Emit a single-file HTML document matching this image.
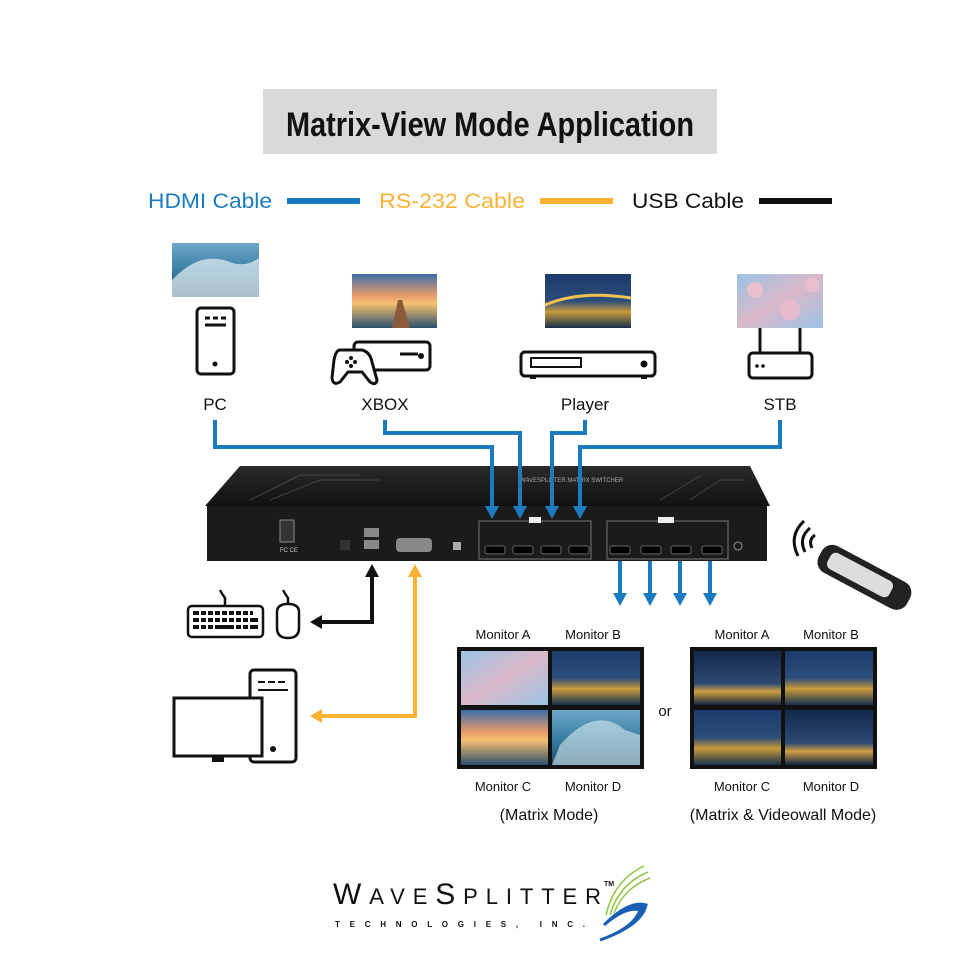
<!DOCTYPE html>
<html><head><meta charset="utf-8"><style>
html,body{margin:0;padding:0;background:#fff}
svg{display:block}
text{font-family:"Liberation Sans",sans-serif}
</style></head><body>
<svg width="980" height="980" viewBox="0 0 980 980" xmlns="http://www.w3.org/2000/svg">
<defs>
<linearGradient id="wave" x1="0" y1="0" x2="0" y2="1"><stop offset="0" stop-color="#6fa7c8"/><stop offset=".5" stop-color="#3a7fa3"/><stop offset="1" stop-color="#1d4f6d"/></linearGradient>
<linearGradient id="sunset" x1="0" y1="0" x2="0" y2="1"><stop offset="0" stop-color="#3d6fa8"/><stop offset=".4" stop-color="#e89a6a"/><stop offset=".55" stop-color="#f5c070"/><stop offset="1" stop-color="#2b4f6e"/></linearGradient>
<linearGradient id="bridge" x1="0" y1="0" x2="0" y2="1"><stop offset="0" stop-color="#1d3a6a"/><stop offset=".5" stop-color="#2a4d7a"/><stop offset=".7" stop-color="#c89a3a"/><stop offset="1" stop-color="#16304f"/></linearGradient>
<linearGradient id="blossom" x1="0" y1="0" x2="1" y2="1"><stop offset="0" stop-color="#9cc3e6"/><stop offset=".5" stop-color="#d9b8c8"/><stop offset="1" stop-color="#9cc3e6"/></linearGradient>
<linearGradient id="night" x1="0" y1="0" x2="0" y2="1"><stop offset="0" stop-color="#13284a"/><stop offset=".6" stop-color="#2c4a74"/><stop offset=".75" stop-color="#d0a044"/><stop offset="1" stop-color="#102440"/></linearGradient>
<linearGradient id="top" x1="0" y1="0" x2="0" y2="1"><stop offset="0" stop-color="#2a2a2a"/><stop offset="1" stop-color="#111"/></linearGradient>
</defs>

<rect x="263" y="89" width="454" height="65" fill="#d9d9d9"/>
<text x="490" y="136" text-anchor="middle" font-size="34" font-weight="bold" fill="#111" textLength="408" lengthAdjust="spacingAndGlyphs">Matrix-View Mode Application</text>

<text x="148" y="208" font-size="21" fill="#1a7bc0" textLength="124" lengthAdjust="spacingAndGlyphs">HDMI Cable</text>
<rect x="287" y="198" width="73" height="6" fill="#1a7bc0"/>
<text x="379" y="208" font-size="21" fill="#f9b233" textLength="146" lengthAdjust="spacingAndGlyphs">RS-232 Cable</text>
<rect x="540" y="198" width="73" height="6" fill="#f9b233"/>
<text x="632" y="208" font-size="21" fill="#111" textLength="112" lengthAdjust="spacingAndGlyphs">USB Cable</text>
<rect x="759" y="198" width="73" height="6" fill="#111"/>

<rect x="172" y="243" width="87" height="54" fill="url(#wave)"/>
<path d="M172 280 Q200 250 230 262 Q245 268 259 258 L259 297 L172 297Z" fill="#e9f2f6" opacity=".7"/>
<rect x="352" y="274" width="85" height="54" fill="url(#sunset)"/>
<path d="M392 328 L398 300 L402 300 L410 328Z" fill="#8a5a3a"/>
<rect x="545" y="274" width="86" height="54" fill="url(#bridge)"/>
<path d="M545 305 Q580 290 631 298" stroke="#f0c050" stroke-width="3" fill="none"/>
<rect x="737" y="274" width="86" height="54" fill="url(#blossom)"/>
<circle cx="755" cy="290" r="8" fill="#e8c0d0"/><circle cx="790" cy="310" r="10" fill="#e6bccd"/><circle cx="812" cy="285" r="7" fill="#e8c0d0"/>

<g fill="none" stroke="#111" stroke-width="3">
<rect x="197" y="308" width="37" height="66" rx="4"/>
<line x1="205" y1="318" x2="226" y2="318" stroke-dasharray="5 3"/>
<line x1="205" y1="325" x2="226" y2="325"/>
<rect x="354" y="342" width="76" height="28" rx="4"/>
<path d="M340 350 L362 350 Q370 352 372 362 L377 380 Q376 386 370 382 L362 372 L348 372 L340 382 Q333 386 332 378 L334 360 Q336 350 340 350Z" fill="#fff"/>
<line x1="400" y1="354" x2="418" y2="354"/>
<rect x="521" y="352" width="134" height="24" rx="4"/>
<rect x="531" y="358" width="50" height="9" stroke-width="2"/>
<rect x="749" y="353" width="63" height="25" rx="4"/>
<line x1="760" y1="328" x2="760" y2="353"/><line x1="800" y1="328" x2="800" y2="353"/>
</g>
<circle cx="215" cy="364" r="2.5" fill="#111"/><circle cx="421" cy="356" r="3" fill="#111"/><circle cx="644" cy="364" r="3.5" fill="#111"/>
<circle cx="757" cy="366" r="1.8" fill="#111"/><circle cx="763" cy="366" r="1.8" fill="#111"/>
<circle cx="355" cy="362" r="2" fill="#111"/><circle cx="347" cy="362" r="2" fill="#111"/><circle cx="351" cy="358" r="2" fill="#111"/><circle cx="351" cy="366" r="2" fill="#111"/>
<rect x="530" y="376" width="6" height="3" fill="#111"/><rect x="641" y="376" width="6" height="3" fill="#111"/>

<text x="215" y="410" font-size="17" text-anchor="middle" fill="#111">PC</text>
<text x="385" y="410" font-size="17" text-anchor="middle" fill="#111">XBOX</text>
<text x="585" y="410" font-size="17" text-anchor="middle" fill="#111">Player</text>
<text x="780" y="410" font-size="17" text-anchor="middle" fill="#111">STB</text>

<path d="M205 506 L240 466 L750 466 L770 506Z" fill="url(#top)"/>
<g stroke="#555" stroke-width="1" fill="none" opacity=".7">
<path d="M250 500 L300 475 L360 475"/><path d="M270 500 L320 480 L380 480"/><path d="M690 500 L720 480 L745 480"/><path d="M660 500 L700 476"/>
</g>
<text x="520" y="482" font-size="6" fill="#aaa">WAVESPLITTER MATRIX SWITCHER</text>
<rect x="207" y="506" width="560" height="55" fill="#1b1b1b"/>
<rect x="280" y="520" width="14" height="22" fill="#333" stroke="#888"/>
<text x="280" y="552" font-size="6" fill="#ccc">FC CE</text>
<rect x="340" y="540" width="10" height="10" fill="#333"/>
<rect x="364" y="528" width="15" height="9" fill="#888"/><rect x="364" y="540" width="15" height="9" fill="#888"/>
<rect x="396" y="538" width="36" height="14" rx="4" fill="#888"/>
<rect x="453" y="542" width="8" height="8" fill="#aaa"/>
<rect x="479" y="521" width="112" height="38" fill="none" stroke="#777"/>
<rect x="607" y="521" width="121" height="38" fill="none" stroke="#777"/>
<rect x="529" y="517" width="12" height="6" fill="#eee"/><rect x="658" y="517" width="16" height="6" fill="#eee"/>
<g fill="#000" stroke="#666">
<rect x="485" y="546" width="20" height="8" rx="2"/><rect x="513" y="546" width="20" height="8" rx="2"/><rect x="541" y="546" width="20" height="8" rx="2"/><rect x="569" y="546" width="20" height="8" rx="2"/>
<rect x="610" y="546" width="20" height="8" rx="2"/><rect x="641" y="546" width="20" height="8" rx="2"/><rect x="671" y="546" width="20" height="8" rx="2"/><rect x="702" y="546" width="20" height="8" rx="2"/>
</g>
<circle cx="738" cy="546" r="4" fill="none" stroke="#999"/>

<g stroke="#1a7bc0" stroke-width="4" fill="none">
<path d="M215 420 V447 H492 V508"/>
<path d="M385 420 V433 H520 V508"/>
<path d="M585 420 V433 H552 V508"/>
<path d="M780 420 V447 H580 V508"/>
<line x1="620" y1="561" x2="620" y2="596"/><line x1="650" y1="561" x2="650" y2="596"/><line x1="680" y1="561" x2="680" y2="596"/><line x1="710" y1="561" x2="710" y2="596"/>
</g>
<g fill="#1a7bc0">
<path d="M485 506 L499 506 L492 519Z"/><path d="M513 506 L527 506 L520 519Z"/><path d="M545 506 L559 506 L552 519Z"/><path d="M573 506 L587 506 L580 519Z"/>
<path d="M613 593 L627 593 L620 606Z"/><path d="M643 593 L657 593 L650 606Z"/><path d="M673 593 L687 593 L680 606Z"/><path d="M703 593 L717 593 L710 606Z"/>
</g>

<path d="M372 575 V622 H320" stroke="#111" stroke-width="4" fill="none"/>
<path d="M365 577 L379 577 L372 564Z" fill="#111"/><path d="M322 615 L322 629 L310 622Z" fill="#111"/>
<path d="M415 575 V716 H320" stroke="#f9b233" stroke-width="4" fill="none"/>
<path d="M408 577 L422 577 L415 564Z" fill="#f9b233"/><path d="M322 709 L322 723 L310 716Z" fill="#f9b233"/>

<g fill="none" stroke="#111" stroke-width="2.5">
<rect x="188" y="606" width="75" height="31" rx="4"/>
<path d="M225 606 V598 Q222 594 220 590"/>
<path d="M277 612 Q277 604 288 604 Q299 604 299 612 V628 Q299 638 288 638 Q277 638 277 628Z"/>
<path d="M288 604 V598 Q285 594 283 590"/>
</g>
<g fill="#111">
<rect x="193" y="611" width="60" height="4" /><rect x="193" y="618" width="65" height="4"/><rect x="193" y="625" width="65" height="4"/>
</g>
<g stroke="#fff" stroke-width="2"><line x1="200" y1="609" x2="200" y2="631"/><line x1="207" y1="609" x2="207" y2="631"/><line x1="214" y1="609" x2="214" y2="631"/><line x1="221" y1="609" x2="221" y2="624"/><line x1="228" y1="609" x2="228" y2="624"/><line x1="235" y1="609" x2="235" y2="631"/><line x1="242" y1="609" x2="242" y2="631"/><line x1="249" y1="609" x2="249" y2="631"/></g>

<g fill="#fff" stroke="#111" stroke-width="3">
<rect x="250" y="670" width="46" height="92" rx="4"/>
<rect x="174" y="698" width="88" height="58"/>
</g>
<line x1="258" y1="682" x2="288" y2="682" stroke="#111" stroke-width="2" stroke-dasharray="7 3"/>
<line x1="258" y1="690" x2="288" y2="690" stroke="#111" stroke-width="2"/>
<circle cx="273" cy="749" r="3" fill="#111"/>
<rect x="212" y="756" width="12" height="6" fill="#111"/>

<g font-size="13" text-anchor="middle" fill="#111">
<text x="503" y="639">Monitor A</text><text x="593" y="639">Monitor B</text>
<text x="503" y="791">Monitor C</text><text x="593" y="791">Monitor D</text>
<text x="742" y="639">Monitor A</text><text x="831" y="639">Monitor B</text>
<text x="742" y="791">Monitor C</text><text x="831" y="791">Monitor D</text>
</g>
<rect x="457" y="647" width="187" height="122" fill="#111"/>
<rect x="461" y="651" width="87" height="54" fill="url(#blossom)"/>
<rect x="552" y="651" width="88" height="54" fill="url(#bridge)"/>
<rect x="461" y="710" width="87" height="55" fill="url(#sunset)"/>
<rect x="552" y="710" width="88" height="55" fill="url(#wave)"/>
<path d="M560 745 Q595 705 625 730 L640 735 L640 765 L552 765Z" fill="#d8ecf2" opacity=".6"/>
<rect x="690" y="647" width="187" height="122" fill="#111"/>
<rect x="694" y="651" width="87" height="54" fill="url(#night)"/>
<rect x="785" y="651" width="88" height="54" fill="url(#bridge)"/>
<rect x="694" y="710" width="87" height="55" fill="url(#bridge)"/>
<rect x="785" y="710" width="88" height="55" fill="url(#night)"/>
<text x="665" y="716" font-size="15" text-anchor="middle" fill="#111">or</text>
<text x="549" y="820" font-size="16" text-anchor="middle" fill="#111">(Matrix Mode)</text>
<text x="783" y="820" font-size="16" text-anchor="middle" fill="#111">(Matrix &amp; Videowall Mode)</text>

<g transform="rotate(28 860 575)">
<rect x="815" y="560" width="100" height="30" rx="12" fill="#222"/>
<rect x="825" y="566" width="70" height="18" rx="6" fill="#ddd"/>
</g>
<g fill="none" stroke="#111" stroke-width="3"><path d="M812 548 Q808 540 815 535"/><path d="M805 552 Q798 538 810 528"/><path d="M798 556 Q788 536 804 521"/></g>

<text x="333" y="904" font-size="30" fill="#111" textLength="268" lengthAdjust="spacing">W<tspan font-size="22">AVE</tspan>S<tspan font-size="22">PLITTER</tspan></text>
<text x="604" y="886" font-size="7" font-weight="bold" fill="#111">TM</text>
<text x="335" y="927" font-size="8" font-weight="bold" fill="#111" textLength="250" lengthAdjust="spacing">TECHNOLOGIES, INC.</text>
<g fill="none" stroke="#8cc63f" stroke-width="1.5"><path d="M606 915 Q614 880 644 866"/><path d="M610 915 Q619 884 648 872"/><path d="M614 913 Q624 888 650 878"/></g>
<path d="M604 925 Q629 900 646 905 Q642 925 600 940 Q634 928 640 910 Q626 906 604 925Z" fill="#1a5fb4" stroke="#1a5fb4" stroke-width="3"/>
</svg>
</body></html>
